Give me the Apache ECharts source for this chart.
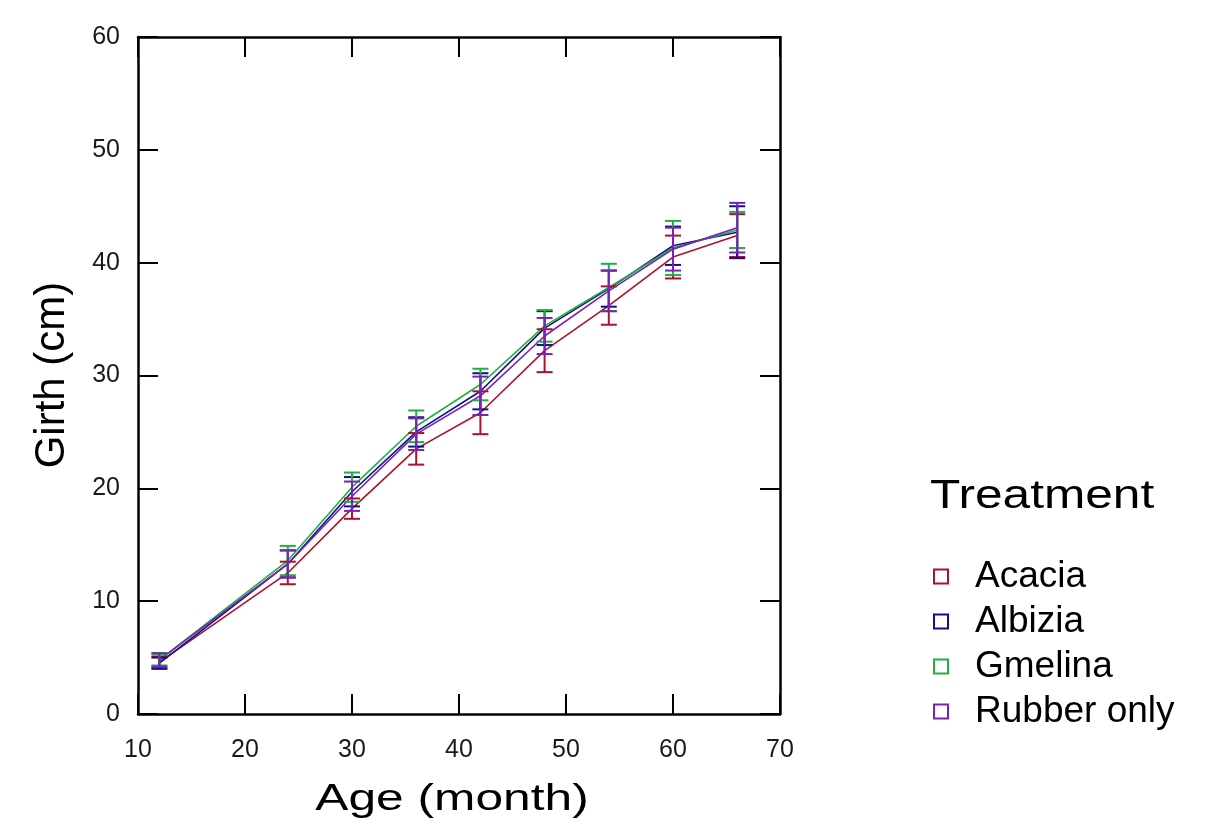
<!DOCTYPE html>
<html>
<head>
<meta charset="utf-8">
<script src="https://cdn.jsdelivr.net/npm/echarts@6/dist/echarts.min.js"></script>
<style>
  html, body { margin: 0; padding: 0; background: #fff; }
  .main { width: 1218px; height: 828px; }
</style>
</head>
<body>
<div class="main"></div>
<script>
// ages (month) and mean girth per treatment
let ages = [12, 24, 30, 36, 42, 48, 54, 60, 66];
let names = ['Acacia', 'Albizia', 'Gmelina', 'Rubber only'];
let colors = ['#b0102a', '#10108a', '#20b040', '#7a22b8'];

let acacia = [4.6, 12.5, 18.2, 23.5, 26.7, 32.2, 36.2, 40.5, 42.4];
let albizia = [4.5, 13.3, 19.7, 25.0, 28.6, 34.2, 37.7, 41.5, 42.7];
let gmelina = [4.8, 13.6, 20.1, 25.5, 29.2, 34.4, 37.8, 41.3, 42.9];
let rubber = [4.8, 13.3, 19.3, 24.8, 28.2, 33.5, 37.5, 41.2, 43.1];

// half-length of the error bars
let acaciaErr = [0.5, 1.0, 0.9, 1.4, 1.9, 1.9, 1.7, 1.9, 1.9];
let albiziaErr = [0.5, 1.2, 1.3, 1.3, 1.6, 1.5, 1.6, 1.7, 2.3];
let gmelinaErr = [0.5, 1.3, 1.3, 1.4, 1.4, 1.4, 2.1, 2.4, 1.6];
let rubberErr = [0.6, 1.2, 1.3, 1.4, 1.7, 1.6, 1.8, 1.9, 2.2];

let means = [acacia, albizia, gmelina, rubber];
let errs = [acaciaErr, albiziaErr, gmelinaErr, rubberErr];

let xTicks = [10, 20, 30, 40, 50, 60, 70];
let yTicks = [0, 10, 20, 30, 40, 50, 60];

$ready();

function $ready() {
    let myChart = echarts.init(document.querySelector('.main'));
    let tickFont = {
        fontFamily: 'Liberation Sans',
        fontSize: 25,
        color: '#1a1a1a'
    };

    let series = [];
    names.forEach(function(name, i) {
        series.push({
            name: name,
            type: 'line',
            symbol: 'none',
            data: ages.map(function(a, j) { return [a, means[i][j]]; }),
            lineStyle: { color: colors[i], width: 1.6 },
            itemStyle: { color: '#fff', borderColor: colors[i], borderWidth: 2 },
            z: 2
        });
    });
    names.forEach(function(name, i) {
        series.push({
            name: name + ' err',
            type: 'custom',
            data: ages.map(function(a, j) {
                return [a, means[i][j] - errs[i][j], means[i][j] + errs[i][j]];
            }),
            renderItem: function(params, api) {
                let lo = api.coord([api.value(0), api.value(1)]);
                let hi = api.coord([api.value(0), api.value(2)]);
                let w = 8;
                let style = { stroke: colors[i], lineWidth: 2 };
                return {
                    type: 'group',
                    children: [
                        { type: 'line', shape: { x1: lo[0], y1: lo[1], x2: hi[0], y2: hi[1] }, style: style },
                        { type: 'line', shape: { x1: lo[0] - w, y1: lo[1], x2: lo[0] + w, y2: lo[1] }, style: style },
                        { type: 'line', shape: { x1: hi[0] - w, y1: hi[1], x2: hi[0] + w, y2: hi[1] }, style: style }
                    ]
                };
            },
            z: 3
        });
    });

    let axisBase = {
        type: 'value',
        splitLine: { show: false },
        axisLine: { show: true, onZero: false, lineStyle: { color: '#000', width: 2.5 } },
        axisTick: { show: true, inside: true, length: 20, lineStyle: { color: '#000', width: 2 } }
    };

    let options = {
        animation: false,
        backgroundColor: '#fff',
        grid: { left: 138, right: 438, top: 37, bottom: 114 },
        xAxis: [
            Object.assign({}, axisBase, {
                min: xTicks[0], max: xTicks[xTicks.length - 1], interval: 10,
                position: 'bottom',
                axisLabel: Object.assign({ margin: 24 }, tickFont)
            }),
            Object.assign({}, axisBase, {
                min: xTicks[0], max: xTicks[xTicks.length - 1], interval: 10,
                position: 'top',
                axisLabel: { show: false }
            })
        ],
        yAxis: [
            Object.assign({}, axisBase, {
                min: yTicks[0], max: yTicks[yTicks.length - 1], interval: 10,
                position: 'left',
                axisLabel: Object.assign({ margin: 18 }, tickFont)
            }),
            Object.assign({}, axisBase, {
                min: yTicks[0], max: yTicks[yTicks.length - 1], interval: 10,
                position: 'right',
                axisLabel: { show: false }
            })
        ],
        legend: {
            orient: 'vertical',
            left: 928,
            top: 553,
            data: names,
            icon: 'rect',
            itemWidth: 14,
            itemHeight: 14,
            itemGap: 8,
            textStyle: {
                fontFamily: 'Liberation Sans', fontSize: 37, lineHeight: 32,
                color: '#000', padding: [0, 0, 0, 22]
            }
        },
        graphic: [
            {
                type: 'text',
                x: 452, y: 800, scaleX: 1.38,
                style: {
                    text: 'Age (month)', font: '36px "Liberation Sans"', fill: '#000',
                    align: 'center', verticalAlign: 'middle'
                }
            },
            {
                type: 'text',
                x: 52, y: 375, rotation: Math.PI / 2,
                style: {
                    text: 'Girth (cm)', font: '42px "Liberation Sans"', fill: '#000',
                    align: 'center', verticalAlign: 'middle'
                }
            },
            {
                type: 'text',
                x: 930, y: 497, scaleX: 1.24,
                style: {
                    text: 'Treatment', font: '40px "Liberation Sans"', fill: '#000',
                    align: 'left', verticalAlign: 'middle'
                }
            }
        ],
        series: series
    };

    myChart.setOption(options);
}
</script>
</body>
</html>
